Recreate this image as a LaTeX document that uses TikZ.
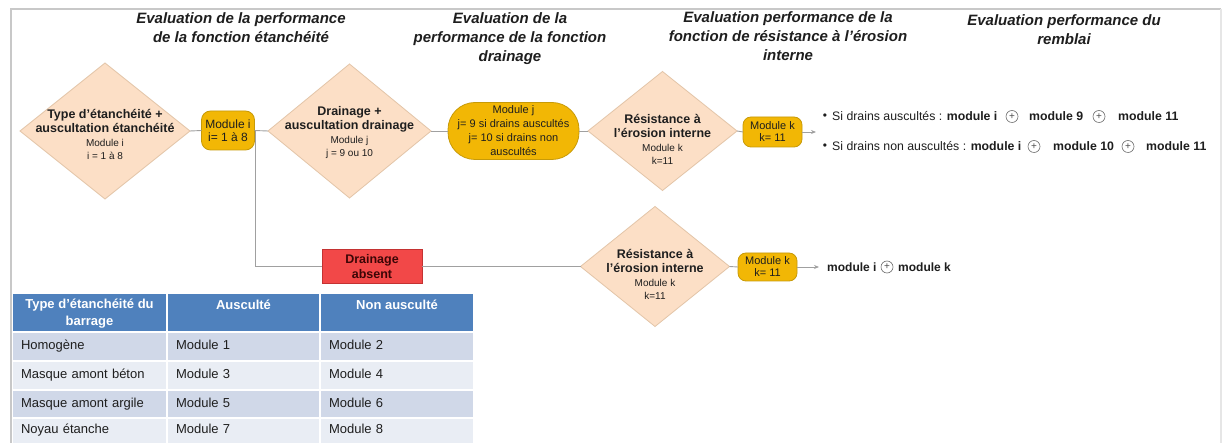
\documentclass[tikz,border=0pt]{standalone}
\usepackage{fontspec}
\setmainfont{Liberation Sans}
\usetikzlibrary{shapes.geometric,arrows.meta,calc}
\definecolor{peach}{HTML}{FCDFC6}
\definecolor{peachb}{HTML}{E3C5A8}
\definecolor{gold}{HTML}{F2B705}
\definecolor{goldb}{HTML}{C79A08}
\definecolor{redf}{HTML}{F24848}
\definecolor{redb}{HTML}{C43232}
\definecolor{redt}{HTML}{3C0606}
\definecolor{linec}{HTML}{A0A0A0}
\definecolor{framec}{HTML}{C8C8C8}
\definecolor{framer}{HTML}{E6E6E6}
\definecolor{hblue}{HTML}{4F81BD}
\definecolor{rowA}{HTML}{D0D8E8}
\definecolor{rowB}{HTML}{E9EDF4}
\definecolor{txt}{HTML}{1E1E1E}
\newcommand{\st}{\fontsize{10}{13}\selectfont\mdseries}
\begin{document}
\begin{tikzpicture}[x=1pt,y=-1pt,
  dia/.style={diamond, draw=peachb, fill=peach, inner sep=0pt, outer sep=0pt, line width=0.8pt},
  dtext/.style={align=center, text=txt, inner sep=0pt, font=\fontsize{12.5}{14}\selectfont\bfseries},
  goldbox/.style={draw=goldb, fill=gold, line width=0.8pt, inner sep=0pt, outer sep=0pt, align=center, text=txt},
  title/.style={align=center, text=txt, font=\fontsize{15}{19}\selectfont\bfseries\itshape},
  conn/.style={draw=linec, line width=0.9pt},
  arr/.style={conn, -{Stealth[length=5pt,width=4pt]}},
  oplus/.style={circle, draw=gray!85!black, fill=white, line width=0.6pt, minimum size=12pt, inner sep=0pt, font=\fontsize{10}{10}\selectfont, text=gray!60!black},
  rtxt/.style={anchor=west, inner sep=0pt, text=txt, font=\fontsize{12.3}{14}\selectfont},
  btxt/.style={rtxt, font=\fontsize{12.3}{14}\selectfont\bfseries},
  bul/.style={inner sep=0pt, text=txt, font=\fontsize{12}{12}\selectfont},
  cellbase/.style={anchor=north west, inner ysep=0pt, inner xsep=8pt, outer sep=0pt, align=left, text=txt, text height=9.5pt, text depth=2.8pt, font=\fontsize{13}{15}\selectfont},
  cellA/.style={cellbase, fill=rowA},
  cellB/.style={cellbase, fill=rowB},
  headc/.style={anchor=north west, fill=hblue, inner sep=0pt, outer sep=0pt, minimum height=37pt},
  headt/.style={align=center, text=white, inner sep=0pt, font=\fontsize{13}{17}\selectfont\bfseries}
]
\useasboundingbox (0,0) rectangle (1222,443);
\fill[white] (0,0) rectangle (1222,443);
% frame
\draw[framec, line width=2pt] (11,470) -- (11,9) -- (1221,9);
\draw[framer, line width=1.5pt] (1221,9) -- (1221,470);

% titles
\node[title] (t1) at (241,27.5) {Evaluation de la performance\\de la fonction étanchéité};
\node[title] (t2) at (510,38.5) {Evaluation de la\\performance de la fonction\\drainage};
\node[title] (t3) at (788,36) {Evaluation performance de la\\fonction de résistance à l’érosion\\interne};
\node[title] (t4) at (1064,29.5) {Evaluation performance du\\remblai};

% top row
\node[dia, minimum width=170pt, minimum height=136pt] (d1) at (105,131) {};
\node[dtext] (d1t) at (105,134.5) {Type d’étanchéité +\\auscultation étanchéité\\[-0.5pt]{\st Module i}\\[-0.5pt]{\st i = 1 à 8}};

\node[goldbox, minimum width=53pt, minimum height=39pt, rounded corners=9pt, font=\fontsize{12}{13}\selectfont] (mi) at (228,130.5) {Module i\\i= 1 à 8};

\node[dia, minimum width=163pt, minimum height=134pt] (d2) at (349.5,131) {};
\node[dtext] (d2t) at (349.5,133) {Drainage +\\auscultation drainage\\[-0.5pt]{\st Module j}\\[-0.5pt]{\st j = 9 ou 10}};

\node[goldbox, minimum width=131pt, minimum height=57pt, rounded corners=27pt, font=\fontsize{11}{14}\selectfont] (mj) at (513.5,131) {Module j\\j= 9 si drains auscultés\\j= 10 si drains non\\auscultés};

\node[dia, minimum width=149pt, minimum height=119pt] (d3) at (662.5,131) {};
\node[dtext] (d3t) at (662.5,139.5) {Résistance à\\l’érosion interne\\[-0.5pt]{\st Module k}\\[-0.5pt]{\st k=11}};

\node[goldbox, minimum width=59pt, minimum height=30pt, rounded corners=8pt, font=\fontsize{11}{12}\selectfont] (mk) at (772.5,132) {Module k\\k= 11};
\coordinate (a1) at (816,132);

\draw[conn] (d1.east) -- (mi.west);
\draw[conn] (mi.east) -- (d2.west);
\draw[conn] (d2.east) -- (mj.west);
\draw[conn] (mj.east) -- (d3.west);
\draw[conn] (d3.east) -- (mk.west);
\draw[arr] (mk.east) -- (a1);

% results, top
\node[bul] (b1) at (825,116.5) {•};
\node[rtxt] (r1a) at (832,116.5) {Si drains auscultés : \textbf{module i}};
\node[oplus] (p1a) at (1012,116.5) {+};
\node[btxt] (r1b) at (1029,116.5) {module 9};
\node[oplus] (p1b) at (1099,116.5) {+};
\node[btxt] (r1c) at (1118,116.5) {module 11};

\node[bul] (b2) at (825,146.5) {•};
\node[rtxt] (r2a) at (832,146.5) {Si drains non auscultés : \textbf{module i}};
\node[oplus] (p2a) at (1034,146.5) {+};
\node[btxt] (r2b) at (1053,146.5) {module 10};
\node[oplus] (p2b) at (1128,146.5) {+};
\node[btxt] (r2c) at (1146,146.5) {module 11};

% bottom row
\coordinate (br) at ($(mi.east)+(1,0)$);
\node[draw=redb, fill=redf, line width=0.8pt, minimum width=100pt, minimum height=34pt, inner sep=0pt, outer sep=0pt, align=center, text=redt, font=\fontsize{12.5}{15}\selectfont\bfseries] (da) at (372,266.5) {Drainage\\absent};
\draw[conn] (br) |- (da.west);

\node[dia, minimum width=149pt, minimum height=120pt] (d4) at (655,266.5) {};
\node[dtext] (d4t) at (655,274.5) {Résistance à\\l’érosion interne\\[-0.5pt]{\st Module k}\\[-0.5pt]{\st k=11}};
\draw[conn] (da.east) -- (d4.west);

\node[goldbox, minimum width=59pt, minimum height=28pt, rounded corners=8pt, font=\fontsize{11}{12}\selectfont] (mk2) at (767.5,267) {Module k\\k= 11};
\coordinate (a2) at (819,267);
\draw[conn] (d4.east) -- (mk2.west);
\draw[arr] (mk2.east) -- (a2);

\node[btxt, font=\fontsize{12}{14}\selectfont\bfseries] (r3a) at (827,267) {module i};
\node[oplus] (p3) at (887,267) {+};
\node[btxt, font=\fontsize{12}{14}\selectfont\bfseries] (r3b) at (898,267) {module k};

% table header
\node[headc, minimum width=153pt] (h1) at (13,294) {};
\node[headc, minimum width=151pt] (h2) at (168,294) {};
\node[headc, minimum width=152pt] (h3) at (321,294) {};
\node[headt] (h1t) at (89.5,313.5) {Type d’étanchéité du\\barrage};
\node[headt] (h2t) at (243.5,305) {Ausculté};
\node[headt] (h3t) at (397,305) {Non ausculté};

% table rows
\node[cellA, minimum height=27pt, text width=137pt] (c11) at (13,333) {Homogène};
\node[cellA, minimum height=27pt, text width=135pt] (c12) at (168,333) {Module 1};
\node[cellA, minimum height=27pt, text width=136pt] (c13) at (321,333) {Module 2};

\node[cellB, minimum height=27pt, text width=137pt] (c21) at (13,362) {Masque amont béton};
\node[cellB, minimum height=27pt, text width=135pt] (c22) at (168,362) {Module 3};
\node[cellB, minimum height=27pt, text width=136pt] (c23) at (321,362) {Module 4};

\node[cellA, minimum height=26pt, text width=137pt] (c31) at (13,391) {Masque amont argile};
\node[cellA, minimum height=26pt, text width=135pt] (c32) at (168,391) {Module 5};
\node[cellA, minimum height=26pt, text width=136pt] (c33) at (321,391) {Module 6};

\node[cellB, minimum height=23pt, text width=137pt] (c41) at (13,419) {Noyau étanche};
\node[cellB, minimum height=23pt, text width=135pt] (c42) at (168,419) {Module 7};
\node[cellB, minimum height=23pt, text width=136pt] (c43) at (321,419) {Module 8};
\fill[rowB] (13,441) rectangle (166,450);
\fill[rowB] (168,441) rectangle (319,450);
\fill[rowB] (321,441) rectangle (473,450);
\end{tikzpicture}
\end{document}
